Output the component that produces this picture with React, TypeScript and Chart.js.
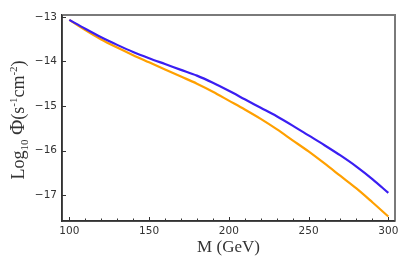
import React, { useEffect, useRef } from "react";
import { Chart, registerables } from "chart.js";

Chart.register(...registerables);

const masses = [100, 110, 120, 130, 140, 150, 160, 170, 180, 190, 200, 210, 220, 230, 240, 250, 260, 270, 280, 290, 300];
const blueSeries = [-13.07, -13.27, -13.46, -13.63, -13.79, -13.93, -14.06, -14.19, -14.32, -14.48, -14.66, -14.85, -15.04, -15.23, -15.44, -15.66, -15.88, -16.11, -16.36, -16.64, -16.95];
const orangeSeries = [-13.07, -13.3, -13.51, -13.69, -13.86, -14.02, -14.18, -14.34, -14.5, -14.68, -14.88, -15.08, -15.29, -15.52, -15.77, -16.02, -16.29, -16.57, -16.85, -17.16, -17.48];
const xMajorTicks = [100, 150, 200, 250, 300];
const xMinorTicks = [110, 120, 130, 140, 160, 170, 180, 190, 210, 220, 230, 240, 260, 270, 280, 290];
const yMajorTicks = [-17, -16, -15, -14, -13];

const framePlugin = {
  id: "frame",
  afterDatasetsDraw(chart: any) {
    const ctx: CanvasRenderingContext2D = chart.ctx;
    const a = chart.chartArea;
    const xs = chart.scales.x;
    const ys = chart.scales.y;
    ctx.save();
    ctx.setLineDash([]);
    ctx.globalAlpha = 1;
    // top & right frame
    ctx.strokeStyle = "#7a7a7a";
    ctx.lineWidth = 2;
    ctx.beginPath();
    ctx.moveTo(a.left, a.top);
    ctx.lineTo(a.right, a.top);
    ctx.lineTo(a.right, a.bottom);
    ctx.stroke();
    // left & bottom axes
    ctx.strokeStyle = "#333333";
    ctx.lineWidth = 1.5;
    ctx.beginPath();
    ctx.moveTo(a.left, a.top);
    ctx.lineTo(a.left, a.bottom);
    ctx.lineTo(a.right, a.bottom);
    ctx.stroke();
    // ticks inward
    ctx.lineWidth = 1;
    ctx.strokeStyle = "#333333";
    ctx.beginPath();
    xMajorTicks.forEach((v) => {
      const px = Math.round(xs.getPixelForValue(v)) + 0.5;
      ctx.moveTo(px, a.bottom);
      ctx.lineTo(px, a.bottom - 4);
    });
    xMinorTicks.forEach((v) => {
      const px = Math.round(xs.getPixelForValue(v)) + 0.5;
      ctx.moveTo(px, a.bottom);
      ctx.lineTo(px, a.bottom - 2.5);
    });
    yMajorTicks.forEach((v) => {
      const py = Math.round(ys.getPixelForValue(v)) + 0.5;
      ctx.moveTo(a.left, py);
      ctx.lineTo(a.left + 4, py);
    });
    ctx.stroke();
    ctx.restore();

    // y title with sub/superscripts
    ctx.save();
    const parts: { t: string; size: number; dy: number }[] = [
      { t: "Log", size: 18, dy: 0 },
      { t: "10", size: 11, dy: 4 },
      { t: " ", size: 18, dy: 0 },
      { t: "Φ", size: 21, dy: 0 },
      { t: "(s", size: 18, dy: 0 },
      { t: "-1", size: 11, dy: -7 },
      { t: "cm", size: 18, dy: 0 },
      { t: "-2", size: 11, dy: -7 },
      { t: ")", size: 18, dy: 0 },
    ];
    let total = 0;
    parts.forEach((p) => {
      ctx.font = `${p.size}px "Liberation Serif", "Times New Roman", serif`;
      total += ctx.measureText(p.t).width;
    });
    const cy = (a.top + a.bottom) / 2 + 2;
    ctx.translate(24, cy);
    ctx.rotate(-Math.PI / 2);
    ctx.fillStyle = "#333";
    ctx.textBaseline = "alphabetic";
    ctx.textAlign = "left";
    let x = -total / 2;
    parts.forEach((p) => {
      ctx.font = `${p.size}px "Liberation Serif", "Times New Roman", serif`;
      ctx.fillText(p.t, x, p.dy);
      x += ctx.measureText(p.t).width;
    });
    ctx.restore();
  },
};

export default function App() {
  const canvasRef = useRef<HTMLCanvasElement | null>(null);

  useEffect(() => {
    if (!canvasRef.current) return;
    const chart = new Chart(canvasRef.current, {
      type: "line",
      data: {
        datasets: [
          {
            label: "blue",
            data: masses.map((m, i) => ({ x: m, y: blueSeries[i] })),
            borderColor: "#3a1ef2",
            borderWidth: 2.2,
            pointRadius: 0,
            cubicInterpolationMode: "monotone",
            fill: false,
          },
          {
            label: "orange",
            data: masses.map((m, i) => ({ x: m, y: orangeSeries[i] })),
            borderColor: "#ffa000",
            borderWidth: 2.2,
            pointRadius: 0,
            cubicInterpolationMode: "monotone",
            fill: false,
          },
        ],
      },
      options: {
        animation: false,
        responsive: false,
        maintainAspectRatio: false,
        layout: { padding: { top: 15, right: 14, left: 0, bottom: 0 } },
        plugins: { legend: { display: false }, tooltip: { enabled: false } },
        scales: {
          x: {
            type: "linear",
            min: 95.4,
            max: 304.2,
            grid: { display: false, drawTicks: false },
            border: { display: true, color: "#333333", width: 1.5 },
            afterBuildTicks: (s: any) => {
              s.ticks = xMajorTicks.map((v) => ({ value: v }));
            },
            afterFit: (s: any) => {
              s.height = 46;
            },
            ticks: {
              font: { family: "DejaVu Sans", size: 10.5 },
              color: "#333",
              padding: 4,
              maxRotation: 0,
              callback: (v: any) => String(v),
            },
            title: {
              display: true,
              text: "M (GeV)",
              font: { family: "Liberation Serif", size: 17 },
              color: "#333",
              padding: { top: 0, bottom: 9 },
            },
          },
          y: {
            type: "linear",
            min: -17.58,
            max: -12.96,
            grid: { display: false, drawTicks: false },
            border: { display: true, color: "#333333", width: 1.5 },
            afterBuildTicks: (s: any) => {
              s.ticks = yMajorTicks.map((v) => ({ value: v }));
            },
            afterFit: (s: any) => {
              s.width = 62;
            },
            ticks: {
              font: { family: "DejaVu Sans", size: 10.5 },
              color: "#333",
              padding: 5,
              callback: (v: any) => "\u2212" + Math.abs(Number(v)),
            },
          },
        },
      },
      plugins: [framePlugin],
    });
    return () => chart.destroy();
  }, []);

  return (
    <div style={{ position: "absolute", left: 0, top: 0, width: 409, height: 267, background: "#fff" }}>
      <canvas ref={canvasRef} width={409} height={267} style={{ display: "block" }} />
    </div>
  );
}
